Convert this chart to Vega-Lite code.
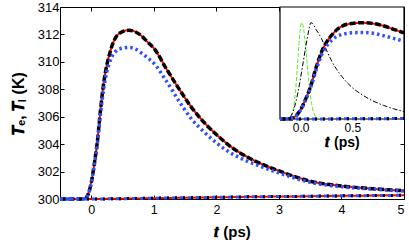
{
  "$schema": "https://vega.github.io/schema/vega-lite/v6.json",
  "width": 344,
  "height": 192,
  "autosize": "none",
  "padding": {"left": 60, "top": 7, "right": 5, "bottom": 51},
  "background": "white",
  "config": {
    "view": {"stroke": "black", "strokeWidth": 1},
    "font": "Liberation Sans",
    "axis": {"labelColor": "black", "titleColor": "black", "grid": false, "domain": false, "tickColor": "black", "labelFont": "Liberation Sans", "titleFont": "Liberation Sans"}
  },
  "datasets": {
    "main": [
      {"t": -0.5, "te": 300.0, "teb": 300.0, "tl": 300.0},
      {"t": -0.3, "te": 300.0, "teb": 300.0, "tl": 300.0},
      {"t": -0.2, "te": 300.0, "teb": 300.0, "tl": 300.0},
      {"t": -0.15, "te": 300.0, "teb": 300.0, "tl": 300.0},
      {"t": -0.1, "te": 300.03, "teb": 300.03, "tl": 300.0},
      {"t": -0.05, "te": 300.35, "teb": 300.33, "tl": 300.0},
      {"t": 0.0, "te": 301.2, "teb": 301.15, "tl": 300.0},
      {"t": 0.05, "te": 302.6, "teb": 302.5, "tl": 300.0},
      {"t": 0.1, "te": 304.3, "teb": 304.15, "tl": 300.0},
      {"t": 0.15, "te": 306.6, "teb": 306.3, "tl": 300.0},
      {"t": 0.2, "te": 308.5, "teb": 308.1, "tl": 300.005},
      {"t": 0.25, "te": 309.8, "teb": 309.3, "tl": 300.01},
      {"t": 0.3, "te": 310.7, "teb": 310.05, "tl": 300.01},
      {"t": 0.35, "te": 311.4, "teb": 310.55, "tl": 300.015},
      {"t": 0.4, "te": 311.85, "teb": 310.8, "tl": 300.02},
      {"t": 0.5, "te": 312.2, "teb": 311.0, "tl": 300.025},
      {"t": 0.6, "te": 312.3, "teb": 311.05, "tl": 300.03},
      {"t": 0.7, "te": 312.2, "teb": 310.95, "tl": 300.04},
      {"t": 0.8, "te": 311.9, "teb": 310.65, "tl": 300.045},
      {"t": 0.9, "te": 311.45, "teb": 310.3, "tl": 300.05},
      {"t": 1.0, "te": 311.0, "teb": 309.9, "tl": 300.06},
      {"t": 1.2, "te": 309.5, "teb": 308.6, "tl": 300.07},
      {"t": 1.4, "te": 308.05, "teb": 307.15, "tl": 300.085},
      {"t": 1.6, "te": 306.7, "teb": 305.85, "tl": 300.1},
      {"t": 1.8, "te": 305.6, "teb": 304.9, "tl": 300.11},
      {"t": 2.0, "te": 304.7, "teb": 304.1, "tl": 300.125},
      {"t": 2.25, "te": 303.75, "teb": 303.3, "tl": 300.14},
      {"t": 2.5, "te": 303.05, "teb": 302.75, "tl": 300.155},
      {"t": 2.75, "te": 302.5, "teb": 302.3, "tl": 300.17},
      {"t": 3.0, "te": 302.05, "teb": 301.9, "tl": 300.18},
      {"t": 3.5, "te": 301.3, "teb": 301.22, "tl": 300.2},
      {"t": 4.0, "te": 300.95, "teb": 300.9, "tl": 300.23},
      {"t": 4.5, "te": 300.75, "teb": 300.72, "tl": 300.25},
      {"t": 5.0, "te": 300.6, "teb": 300.58, "tl": 300.27}
    ],
    "pulse": [
      {"t": -0.2, "g": 300.0, "s": 300.0},
      {"t": -0.175, "g": 300.0, "s": 300.0},
      {"t": -0.15, "g": 300.0, "s": 300.02},
      {"t": -0.125, "g": 300.02, "s": 300.1},
      {"t": -0.1, "g": 300.19, "s": 300.3},
      {"t": -0.075, "g": 301.0, "s": 300.9},
      {"t": -0.05, "g": 303.5, "s": 302.0},
      {"t": -0.025, "g": 308.05, "s": 303.5},
      {"t": 0.0, "g": 311.9, "s": 305.3},
      {"t": 0.01, "g": 312.3, "s": 306.1},
      {"t": 0.025, "g": 311.76, "s": 307.3},
      {"t": 0.05, "g": 308.93, "s": 309.3},
      {"t": 0.075, "g": 305.28, "s": 311.1},
      {"t": 0.1, "g": 302.43, "s": 312.3},
      {"t": 0.125, "g": 300.87, "s": 312.0},
      {"t": 0.15, "g": 300.24, "s": 311.4},
      {"t": 0.175, "g": 300.05, "s": 310.9},
      {"t": 0.2, "g": 300.0, "s": 310.3},
      {"t": 0.25, "g": 300.0, "s": 308.8},
      {"t": 0.3, "g": 300.0, "s": 307.4},
      {"t": 0.35, "g": 300.0, "s": 306.3},
      {"t": 0.4, "g": 300.0, "s": 305.4},
      {"t": 0.5, "g": 300.0, "s": 304.0},
      {"t": 0.6, "g": 300.0, "s": 303.05},
      {"t": 0.7, "g": 300.0, "s": 302.3},
      {"t": 0.8, "g": 300.0, "s": 301.75},
      {"t": 0.9, "g": 300.0, "s": 301.3},
      {"t": 1.0, "g": 300.0, "s": 300.95}
    ],
    "frame": [
      {"x0": -0.2, "x1": 1.0, "y0": 300.0, "y1": 314.3}
    ]
  },
  "layer": [
    {
      "data": {"name": "main"},
      "mark": {"type": "point", "opacity": 0},
      "encoding": {
        "x": {
          "field": "t", "type": "quantitative",
          "scale": {"domain": [-0.5, 5], "nice": false, "zero": false},
          "axis": {"orient": "top", "values": [0, 1, 2, 3, 4, 5], "tickSize": -4, "labels": false, "title": null}
        },
        "y": {
          "field": "te", "type": "quantitative",
          "scale": {"domain": [300, 314], "nice": false, "zero": false},
          "axis": {"orient": "right", "values": [300, 302, 304, 306, 308, 310, 312, 314], "tickSize": -4, "labels": false, "title": null}
        }
      }
    },
    {
      "data": {"name": "main"},
      "encoding": {
        "x": {
          "field": "t", "type": "quantitative",
          "scale": {"domain": [-0.5, 5], "nice": false, "zero": false},
          "axis": {"orient": "bottom", "values": [0, 1, 2, 3, 4, 5], "tickSize": -4, "labelPadding": 8, "labelFontSize": 12.5, "title": "𝒕 (ps)", "titleFontSize": 15, "titleFontWeight": "bold", "titlePadding": 9}
        },
        "y": {
          "type": "quantitative",
          "scale": {"domain": [300, 314], "nice": false, "zero": false},
          "axis": {"orient": "left", "values": [300, 302, 304, 306, 308, 310, 312, 314], "tickSize": -4, "labelPadding": 5, "labelFontSize": 13, "title": "𝑻ₑ, 𝑻ₗ (K)", "titleFontSize": 16, "titleFontWeight": "bold", "titlePadding": 11}
        }
      },
      "layer": [
        {"mark": {"type": "line", "color": "#ff0000", "strokeWidth": 2, "interpolate": "monotone"},
         "encoding": {"y": {"field": "te"}}},
        {"mark": {"type": "line", "color": "#ff0000", "strokeWidth": 2, "interpolate": "monotone"},
         "encoding": {"y": {"field": "tl"}}},
        {"mark": {"type": "line", "color": "#000000", "strokeWidth": 3.5, "strokeDash": [6, 2.5], "interpolate": "monotone"},
         "encoding": {"y": {"field": "te"}}},
        {"mark": {"type": "line", "color": "#3050ff", "strokeWidth": 3, "strokeDash": [5, 3], "interpolate": "monotone"},
         "encoding": {"y": {"field": "tl"}}},
        {"mark": {"type": "line", "color": "#000000", "strokeWidth": 3, "strokeDash": [2, 6], "strokeDashOffset": 5, "interpolate": "monotone"},
         "encoding": {"y": {"field": "tl"}}},
        {"mark": {"type": "line", "color": "#3050ff", "strokeWidth": 3.5, "strokeDash": [2.5, 3], "interpolate": "monotone"},
         "encoding": {"y": {"field": "teb"}}}
      ]
    },
    {
      "encoding": {
        "x": {
          "field": "t", "type": "quantitative",
          "scale": {"domain": [-0.2, 1], "range": [220, 344], "nice": false, "zero": false},
          "axis": {"orient": "bottom", "values": [0, 0.5], "offset": -80, "tickSize": -3, "labelPadding": 6, "labelFontSize": 12, "title": "𝒕 (ps)", "titleFontSize": 14, "titleFontWeight": "bold", "titlePadding": 2}
        },
        "y": {
          "type": "quantitative",
          "scale": {"domain": [300, 314.3], "range": [112, 0], "nice": false, "zero": false},
          "axis": null
        }
      },
      "layer": [
        {"data": {"name": "frame"},
         "mark": {"type": "rect", "fill": "white", "stroke": "black", "strokeWidth": 1.2},
         "encoding": {
           "x": {"field": "x0", "type": "quantitative"},
           "x2": {"field": "x1"},
           "y": {"field": "y0", "type": "quantitative", "axis": null},
           "y2": {"field": "y1"}
         }},
        {"data": {"name": "pulse"}, "transform": [{"filter": "datum.t <= 0.2"}],
         "mark": {"type": "line", "color": "#55ee22", "strokeWidth": 1, "strokeDash": [4, 2], "interpolate": "monotone"},
         "encoding": {"y": {"field": "g"}}},
        {"data": {"name": "pulse"},
         "mark": {"type": "line", "color": "#000000", "strokeWidth": 1, "strokeDash": [5, 2, 1.5, 2], "interpolate": "monotone"},
         "encoding": {"y": {"field": "s"}}},
        {"data": {"name": "main"}, "transform": [{"filter": "datum.t >= -0.2 && datum.t <= 1"}],
         "mark": {"type": "line", "color": "#ff0000", "strokeWidth": 2, "interpolate": "monotone"},
         "encoding": {"y": {"field": "te"}}},
        {"data": {"name": "main"}, "transform": [{"filter": "datum.t >= -0.2 && datum.t <= 1"}],
         "mark": {"type": "line", "color": "#3050ff", "strokeWidth": 3, "strokeDash": [5, 3], "interpolate": "monotone"},
         "encoding": {"y": {"field": "tl"}}},
        {"data": {"name": "main"}, "transform": [{"filter": "datum.t >= -0.2 && datum.t <= 1"}],
         "mark": {"type": "line", "color": "#000000", "strokeWidth": 3, "strokeDash": [2, 6], "strokeDashOffset": 5, "interpolate": "monotone"},
         "encoding": {"y": {"field": "tl"}}},
        {"data": {"name": "main"}, "transform": [{"filter": "datum.t >= -0.2 && datum.t <= 1"}],
         "mark": {"type": "line", "color": "#000000", "strokeWidth": 3.5, "strokeDash": [6, 2.5], "interpolate": "monotone"},
         "encoding": {"y": {"field": "te"}}},
        {"data": {"name": "main"}, "transform": [{"filter": "datum.t >= -0.2 && datum.t <= 1"}],
         "mark": {"type": "line", "color": "#3050ff", "strokeWidth": 3.5, "strokeDash": [2.5, 3], "interpolate": "monotone"},
         "encoding": {"y": {"field": "teb"}}}
      ]
    }
  ],
  "resolve": {"scale": {"x": "independent", "y": "independent"}, "axis": {"x": "independent", "y": "independent"}}
}
